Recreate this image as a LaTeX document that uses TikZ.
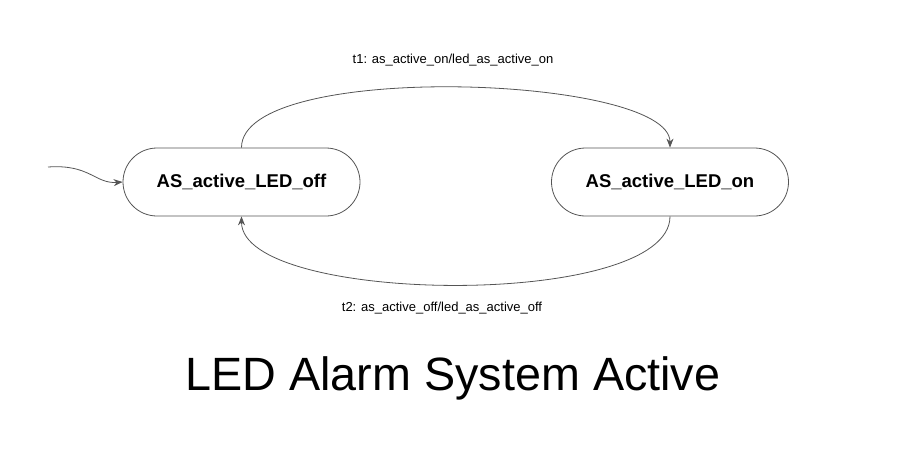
\documentclass[tikz,border=0pt]{standalone}
\usepackage{fontspec}
\setmainfont{Liberation Sans}
\usetikzlibrary{arrows.meta,shapes.misc}
\definecolor{edgegray}{HTML}{555555}
\begin{document}
\begin{tikzpicture}[x=1pt,y=-1pt,
  statebox/.style={draw=edgegray, line width=0.8pt, rounded rectangle, minimum width=237pt, minimum height=68pt, inner sep=0pt, font=\fontsize{18.5}{20}\selectfont\bfseries},
  trans/.style={draw=edgegray, line width=0.8pt, -{Stealth[length=9pt,width=7pt,inset=3pt]}},
  lbl/.style={font=\fontsize{13}{15}\selectfont, inner sep=0pt, anchor=base}]
\useasboundingbox (0,0) rectangle (922,456);
\node[statebox] (off) at (241.5,182) {AS\_active\_LED\_off};
\node[statebox] (on) at (670,182) {AS\_active\_LED\_on};
\coordinate (init) at (48,167);
\draw[trans] (init) .. controls (90,164) and (95,184) .. (off.west);
\draw[trans] (off.north) .. controls (241.5,60) and (670,75) .. (on.north);
\draw[trans] (on.south) .. controls (670,310) and (241.5,305) .. (off.south);
\node[lbl] (t1) at (453,63.3) {t1: as\_active\_on/led\_as\_active\_on};
\node[lbl] (t2) at (442,311.7) {t2: as\_active\_off/led\_as\_active\_off};
\node[inner sep=0pt, anchor=base, font=\fontsize{46.7}{52}\selectfont] (title) at (453,390.7) {LED Alarm System Active};
\end{tikzpicture}
\end{document}
